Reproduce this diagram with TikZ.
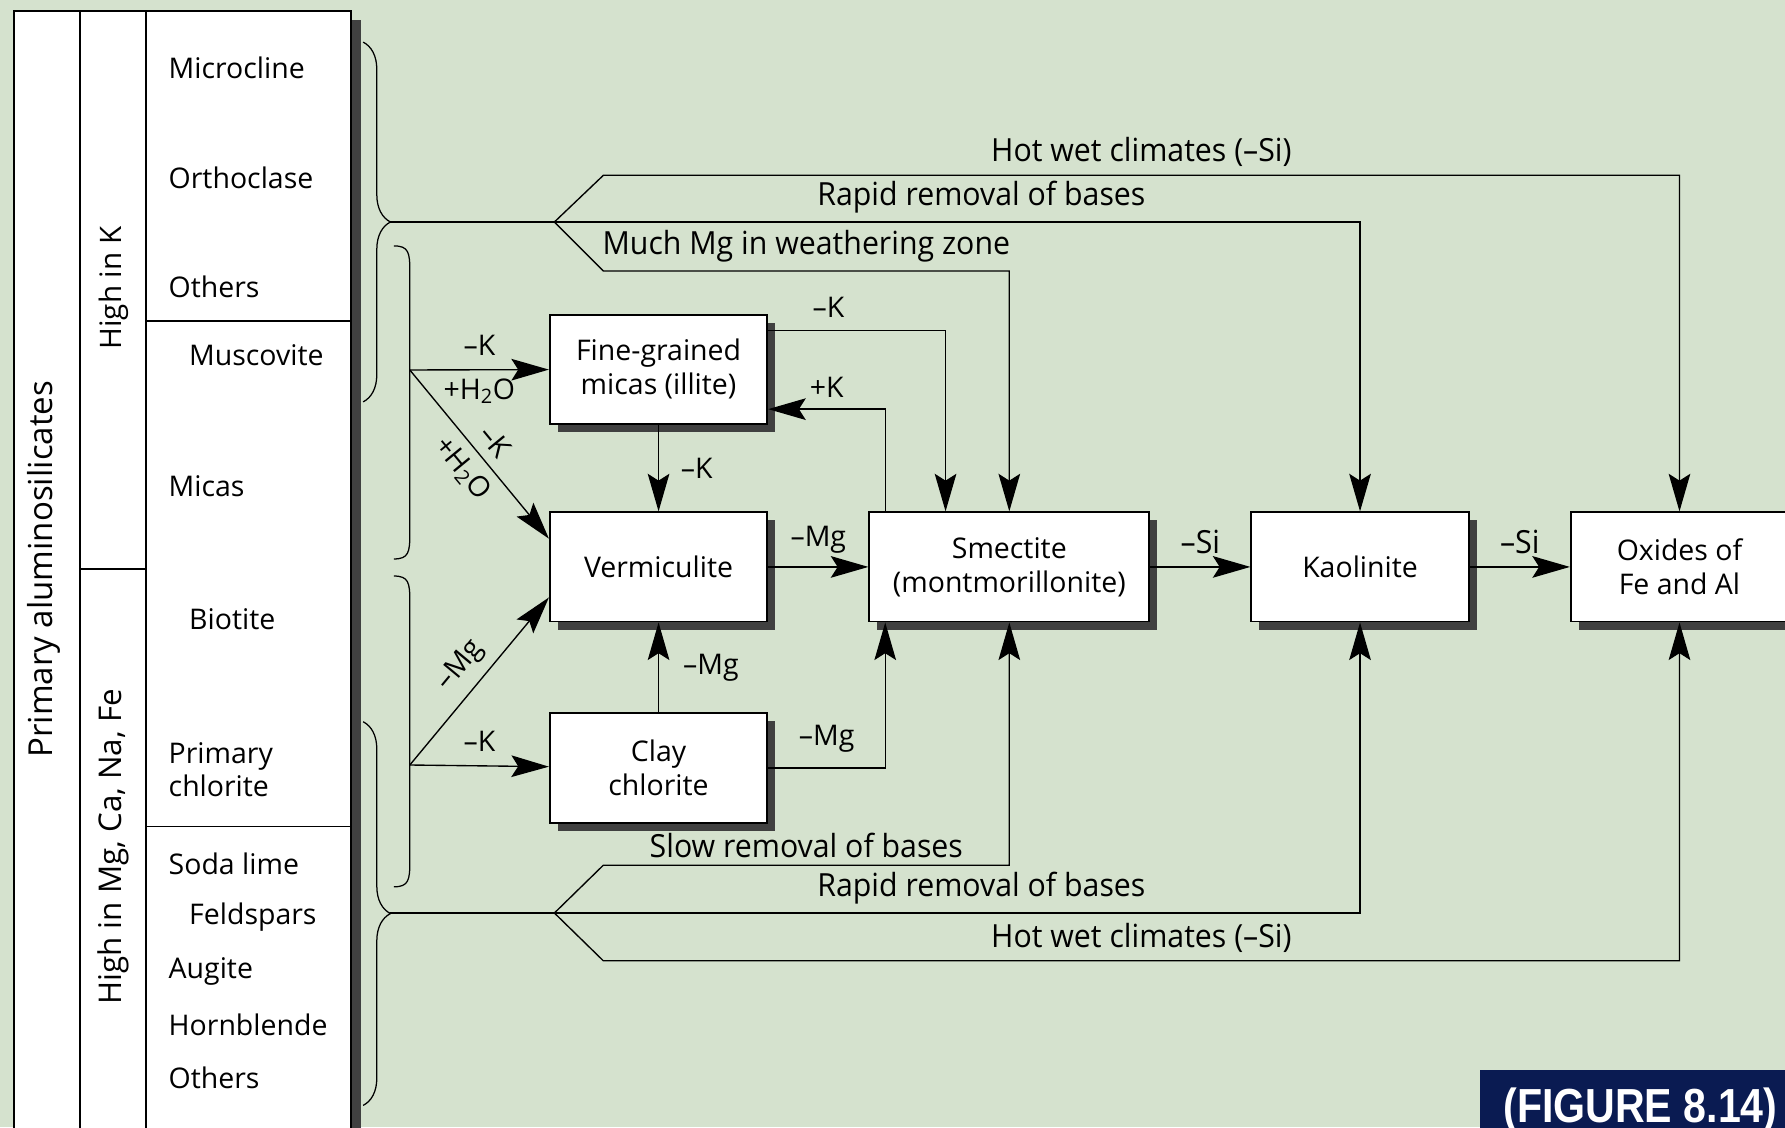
\documentclass[tikz,border=0pt]{standalone}
\usepackage{fontspec}
\setmainfont{Open Sans}
\newfontfamily\condfont[FakeStretch=0.95]{Open Sans}
\newfontfamily\tagfont[FakeStretch=0.86]{Liberation Sans}
\usetikzlibrary{arrows.meta,positioning,shadows,decorations.pathreplacing}
\definecolor{bgreen}{RGB}{213,226,206}
\definecolor{navy}{RGB}{10,27,82}
\definecolor{darkshadow}{RGB}{64,64,64}
\tikzstyle{mineral} = [rectangle, draw=black, line width=1.6pt, fill=white, minimum width=191pt, minimum height=96pt, text centered, align=center, font=\fontsize{25}{30}\selectfont, drop shadow={shadow xshift=7pt, shadow yshift=-7pt, fill=darkshadow, opacity=1}]
\tikzstyle{arrow} = [line width=1.2pt, -{Stealth[length=33pt, width=19pt, inset=6pt]}]
\tikzstyle{link} = [line width=1.2pt]
\tikzstyle{lbl} = [font=\fontsize{25}{27}\selectfont, inner sep=3pt]
\tikzstyle{clbl} = [font=\condfont\fontsize{28}{29}\selectfont, inner sep=2pt]
\tikzstyle{item} = [anchor=west, font=\fontsize{25}{29}\selectfont, inner sep=0pt, align=left]
\tikzstyle{grid} = [line width=1.6pt]
\tikzstyle{bracket} = [line width=1.1pt]

\begin{document}
\begin{tikzpicture}[x=1pt, y=-1pt]
\useasboundingbox (0,0) rectangle (1568,990);
\fill[bgreen] (0,0) rectangle (1568,990);

% table of primary minerals
\fill[darkshadow] (308,18) rectangle (317,995);
\draw[grid, fill=white] (12,10) rectangle (308,995);
\draw[grid] (70,10) -- (70,995);
\draw[grid] (128,10) -- (128,995);
\draw[grid] (70,500) -- (128,500);
\draw[grid] (128,282) -- (308,282);
\draw[grid] (128,726) -- (308,726);
\node (prim) [rotate=90, font=\fontsize{29}{31}\selectfont] at (39,500) {Primary aluminosilicates};
\node (highk) [rotate=90, font=\fontsize{26}{29}\selectfont] at (100,253) {High in K};
\node (highmg) [rotate=90, font=\fontsize{27.5}{29}\selectfont] at (100,744) {High in Mg, Ca, Na, Fe};
\node (micro) [item] at (148,60) {Microcline};
\node (ortho) [item] at (148,156) {Orthoclase};
\node (othk) [item] at (148,252) {Others};
\node (musc) [item] at (166,312) {Muscovite};
\node (micas) [item] at (148,427) {Micas};
\node (bioti) [item] at (166,544) {Biotite};
\node (pchl) [item] at (148,676) {Primary\\chlorite};
\node (soda) [item] at (148,759) {Soda lime};
\node (felds) [item] at (166,806) {Feldspars};
\node (augi) [item] at (148,853) {Augite};
\node (hornb) [item] at (148,900) {Hornblende};
\node (othmg) [item] at (148,947) {Others};

% braces
\draw[bracket, decorate, decoration={brace, amplitude=24pt}] (319,37) -- (319,353);
\draw[bracket, decorate, decoration={brace, amplitude=24pt}] (319,634) -- (319,971);
\foreach \ya/\yb in {216/491, 506/779}
  \draw[bracket] (346,\ya) .. controls (359,\ya) and (360,\ya+6) .. (360,\ya+22) -- (360,\yb-22) .. controls (360,\yb-6) and (359,\yb) .. (346,\yb);

% clay minerals
\node (verm) [mineral] at (578.5,498) {Vermiculite};
\node (illite) [mineral, above=76pt of verm] {Fine-grained\\micas (illite)};
\node (clay) [mineral, below=79pt of verm] {Clay\\chlorite};
\node (smec) [mineral, minimum width=246pt, right=88pt of verm] {Smectite\\(montmorillonite)};
\node (kaol) [mineral, right=88pt of smec] {Kaolinite};
\node (oxid) [mineral, right=88pt of kaol] {Oxides of\\Fe and Al};

\coordinate (tipA) at (343,195);
\coordinate (forkU) at (487,195);
\coordinate (tipD) at (343,802);
\coordinate (forkL) at (487,802);
\coordinate (srcB) at (360,325);
\coordinate (srcC) at (360,672);

% upper routes
\draw[link] (tipA) -- (forkU);
\draw[arrow] (forkU) -- (530,154) -| node[clbl, above=5pt, pos=0.25] {Hot wet climates (–Si)} (oxid);
\draw[arrow] (forkU) -| node[clbl, above=5pt, pos=0.265] {Rapid removal of bases} (kaol);
\draw[arrow] (forkU) -- (530,238) -| node[clbl, above=5pt, pos=0.25] {Much Mg in weathering zone} (smec);

% lower routes
\draw[link] (tipD) -- (forkL);
\draw[arrow] (forkL) -- (530,760) -| node[clbl, above=4pt, pos=0.25] {Slow removal of bases} (smec);
\draw[arrow] (forkL) -| node[clbl, above=5pt, pos=0.265] {Rapid removal of bases} (kaol);
\draw[arrow] (forkL) -- (530,844) -| node[clbl, above=5pt, pos=0.25] {Hot wet climates (–Si)} (oxid);

% alteration steps
\draw[arrow] (srcB) -- node[lbl, above=9pt] {–K} node[lbl, below=4pt] {+H\textsubscript{2}O} (illite);
\draw[arrow] (srcB) -- node[lbl, sloped, above=6pt] {–K} node[lbl, sloped, below=5pt] {+H\textsubscript{2}O} ([yshift=-24pt]verm.north west);
\draw[arrow] (srcC) -- node[lbl, sloped, above=6pt] {–Mg} ([yshift=22pt]verm.south west);
\draw[arrow] (srcC) -- node[lbl, above=9pt] {–K} (clay);
\draw[arrow] (illite) -- node[lbl, right=16pt] {–K} (verm);
\draw[arrow] (clay) -- node[lbl, right=18pt] {–Mg} (verm);
\draw[arrow] (verm) -- node[lbl, above=8pt] {–Mg} (smec);
\draw[arrow] ([yshift=34pt]illite.east) -| node[lbl, above=8pt, pos=0.17] {–K} ([xshift=-56pt]smec.north);
\draw[arrow] ([xshift=-109pt]smec.north) |- node[lbl, above=7pt, pos=0.75] {+K} ([yshift=-35pt]illite.east);
\draw[arrow] (clay.east) -| node[lbl, above=10pt, pos=0.25] {–Mg} ([xshift=-109pt]smec.south);
\draw[arrow] (smec) -- node[clbl, above=9pt] {–Si} (kaol);
\draw[arrow] (kaol) -- node[clbl, above=9pt] {–Si} (oxid);

% figure tag
\fill[navy] (1300,940) rectangle (1568,995);
\node (figtag) [anchor=base, text=white, inner sep=0pt, font=\tagfont\bfseries\fontsize{42}{42}\selectfont] at (1441,986) {(FIGURE 8.14)};
\end{tikzpicture}
\end{document}
